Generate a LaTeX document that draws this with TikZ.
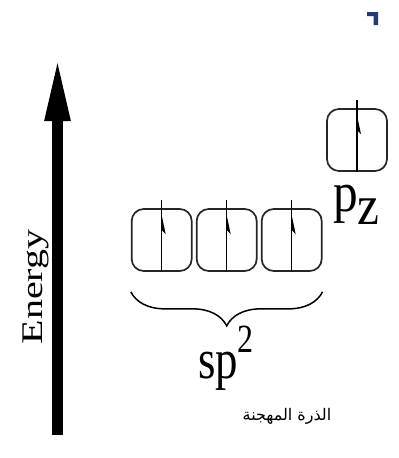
\documentclass[tikz,border=0pt]{standalone}
\usepackage{fontspec}
\setmainfont{Liberation Serif}
\newfontfamily\arabicfont[Script=Arabic]{DejaVu Sans}
\TeXXeTstate=1
\usetikzlibrary{arrows.meta,decorations.pathreplacing,positioning}
\definecolor{darknavy}{HTML}{1F3B78}

\tikzset{
  orbital/.style={rectangle, draw=black!85, line width=1.7pt, rounded corners=12pt, minimum width=60pt, minimum height=62pt, inner sep=0pt},
  spin/.style={line width=1.4pt},
  bigtext/.style={font=\fontsize{56}{56}\selectfont, xscale=0.8, transform shape, inner sep=0pt},
}

\begin{document}
\begin{tikzpicture}[x=1pt, y=1pt, >=Stealth]
      \useasboundingbox (0,0) rectangle (399,-458);

      % Energy axis
      \coordinate (ebot) at (57.5,-435);
      \coordinate (etop) at (57.5,-56);
      \draw[-{Triangle[length=65pt,width=23pt]}, line width=11pt] (ebot) -- (etop);
      \node[font=\fontsize{40}{40}\selectfont, xscale=0.75, rotate=90, transform shape] (energy) at (36,-287) {Energy};

      % sp2 orbitals
      \node[orbital] (s1) at (161.7,-240) {};
      \node[orbital] (s2) at (226.7,-240) {};
      \node[orbital] (s3) at (291.7,-240) {};

      % pz orbital
      \node[orbital] (pz) at (357,-140) {};

      % electrons (half arrows)
      \foreach \b in {s1,s2,s3,pz} {
        \draw[spin] (\b.south) -- ([yshift=8pt]\b.north);
        \fill ([yshift=-7pt]\b.north) -- ++(4pt,-19pt) -- ++(-4pt,4pt) -- cycle;
      }

      % brace under sp2
      \draw[decorate, decoration={brace, mirror, amplitude=34pt}, line width=1.5pt] ([yshift=-20pt]s1.south west) -- ([yshift=-20pt]s3.south east);

      % labels
      \node[bigtext, anchor=base west] (sptext) at (198,-378) {sp\raisebox{26pt}{\fontsize{40}{40}\selectfont 2}};
      \node[bigtext, xscale=1.1, anchor=base west] (pztext) at (333,-211) {p\raisebox{-13pt}{z}};
      \node[font=\arabicfont\fontsize{16}{18}\selectfont] (atom) at (287,-416) {\beginR الذرة المهجنة\endR};

      % cut-off mark, top right
      \fill[darknavy] (367,-12) -- (378,-12) -- (378,-25) -- (373.5,-25) -- (373.5,-16) -- (367,-16) -- cycle;
    \end{tikzpicture}
\end{document}
